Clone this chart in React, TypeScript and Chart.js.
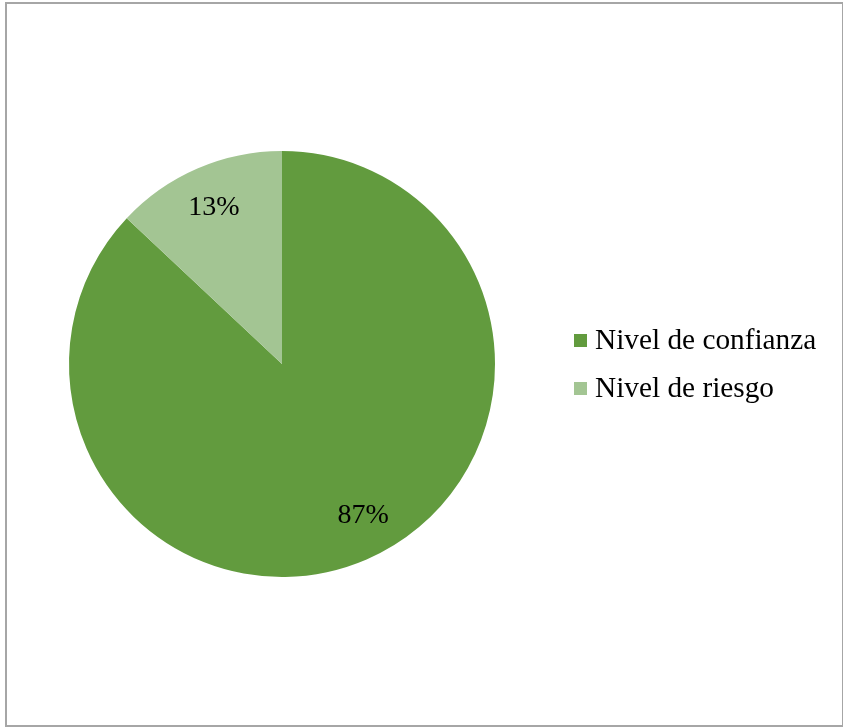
import React, { useEffect, useRef } from "react";
import { Chart, registerables } from "chart.js";

Chart.register(...registerables);

const categories = ["Nivel de confianza", "Nivel de riesgo"];
const values = [87, 13];
const valueLabels = ["87%", "13%"];
const colors = ["#629B3E", "#A3C593"];

const FONT = "28px 'Liberation Serif', 'Times New Roman', serif";
const LEGEND_FONT = "29.3px 'Liberation Serif', 'Times New Roman', serif";

const labelPlugin = {
  id: "sliceLabels",
  afterDatasetsDraw(chart: any) {
    const ctx = chart.ctx;
    const meta = chart.getDatasetMeta(0);
    const angleAdjust = [-0.084, 0];
    ctx.save();
    ctx.font = FONT;
    ctx.fillStyle = "#000000";
    ctx.textAlign = "center";
    ctx.textBaseline = "middle";
    meta.data.forEach((arc: any, i: number) => {
      const p = arc.getProps(["x", "y", "startAngle", "endAngle", "outerRadius"], true);
      const mid = (p.startAngle + p.endAngle) / 2 + angleAdjust[i];
      const r = p.outerRadius * 0.805;
      ctx.fillText(valueLabels[i], p.x + Math.cos(mid) * r, p.y + Math.sin(mid) * r + 1);
    });
    ctx.restore();
  },
};

const legendPlugin = {
  id: "customLegend",
  afterDraw(chart: any) {
    const ctx = chart.ctx;
    const labels = chart.data.labels as string[];
    const bg = chart.data.datasets[0].backgroundColor as string[];
    ctx.save();
    ctx.font = LEGEND_FONT;
    ctx.textBaseline = "middle";
    ctx.textAlign = "left";
    const x0 = 574;
    const y0 = 341;
    const gap = 48;
    labels.forEach((lab, i) => {
      const y = y0 + i * gap;
      ctx.fillStyle = bg[i];
      ctx.fillRect(x0, y - 7, 13, 13);
      ctx.fillStyle = "#000000";
      ctx.fillText(lab, x0 + 21, y);
    });
    ctx.restore();
  },
};

export default function App() {
  const ref = useRef<HTMLCanvasElement | null>(null);
  useEffect(() => {
    if (!ref.current) return;
    const chart = new Chart(ref.current, {
      type: "pie",
      data: {
        labels: categories,
        datasets: [
          {
            data: values,
            backgroundColor: colors,
            borderWidth: 0,
          },
        ],
      },
      options: {
        animation: false,
        responsive: false,
        maintainAspectRatio: false,
        layout: { padding: { left: 69, top: 151, right: 348, bottom: 150 } },
        plugins: {
          legend: { display: false },
          tooltip: { enabled: false },
        },
      },
      plugins: [labelPlugin, legendPlugin],
    });
    return () => chart.destroy();
  }, []);
  return (
    <div style={{ position: "fixed", left: 0, top: 0, width: 843, height: 727, background: "#fff" }}>
      <div
        style={{
          position: "absolute",
          left: 5,
          top: 2,
          width: 835,
          height: 721,
          border: "2px solid #a6a6a6",
          boxSizing: "content-box",
        }}
      />
      <canvas ref={ref} width={843} height={727} style={{ position: "absolute", left: 0, top: 0 }} />
    </div>
  );
}
